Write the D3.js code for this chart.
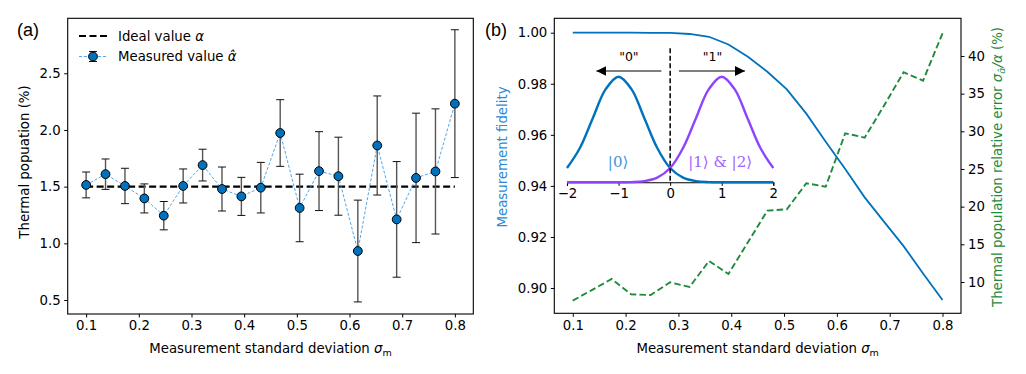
<!DOCTYPE html>
<html>
  <head>
    <meta charset="utf-8" />
    <script src="https://d3js.org/d3.v7.min.js"></script>
    <style>
      body { margin: 0; background: #fff; }
      text { font-family: "DejaVu Sans", sans-serif; fill: #000; }
      .tick text { font-size: 13.3px; }
      .panel-tag { font-family: "Liberation Sans", Arial, sans-serif; font-size: 18px; }
      .math { font-family: "DejaVu Serif", "Liberation Serif", serif; }
    </style>
  </head>
  <body>
    <svg id="fig" width="1026" height="374"></svg>

    <script>
      // sigma_m values (same grid in both panels)
      var sigmaM = [0.1, 0.1368, 0.1737, 0.2105, 0.2474, 0.2842, 0.3211, 0.3579, 0.3947, 0.4316,
                    0.4684, 0.5053, 0.5421, 0.5789, 0.6158, 0.6526, 0.6895, 0.7263, 0.7632, 0.8];

      // panel (a): measured thermal population (%) and its error bar
      var thermalPop = [1.515, 1.61, 1.506, 1.396, 1.244, 1.506, 1.69, 1.479, 1.414, 1.491,
                        1.973, 1.312, 1.637, 1.592, 0.932, 1.863, 1.211, 1.577, 1.634, 2.232];
      var thermalErr = [0.114, 0.134, 0.156, 0.128, 0.125, 0.15, 0.14, 0.194, 0.168, 0.223,
                        0.294, 0.298, 0.348, 0.344, 0.449, 0.437, 0.51, 0.571, 0.552, 0.652];
      var idealValue = 1.5;

      // panel (b): fidelity and relative error (%)
      var fidelity = [1.0, 1.0, 1.0, 1.0, 0.99996, 0.9999, 0.9995, 0.9984, 0.9954, 0.9906,
                      0.9847, 0.9778, 0.9683, 0.9573, 0.9466, 0.9355, 0.9259, 0.9164, 0.9057, 0.8953];
      var relError = [7.52, 8.96, 10.40, 8.37, 8.27, 9.96, 9.34, 12.79, 11.06, 15.27,
                      19.47, 19.65, 23.10, 22.65, 29.74, 29.16, 33.44, 37.84, 36.72, 43.01];

      // inset: readout distributions
      var insetX = [-2, -1.75, -1.5, -1.25, -1, -0.75, -0.5, -0.25, 0, 0.25, 0.5, 0.75, 1, 1.25, 1.5, 1.75, 2];
      var ground = [0.135, 0.325, 0.607, 0.882, 1.0, 0.882, 0.607, 0.325, 0.135, 0.044, 0.011, 0.002, 0.0, 0.0, 0.0, 0.0, 0.0];
      var excited = [0.0, 0.0, 0.0, 0.0, 0.0, 0.002, 0.011, 0.044, 0.135, 0.325, 0.607, 0.882, 1.0, 0.882, 0.607, 0.325, 0.135];

      var xTicks = [0.1, 0.2, 0.3, 0.4, 0.5, 0.6, 0.7, 0.8];
      var popTicks = [0.5, 1.0, 1.5, 2.0, 2.5];
      var fidTicks = [0.90, 0.92, 0.94, 0.96, 0.98, 1.00];
      var errTicks = [10, 15, 20, 25, 30, 35, 40];
      var insetTicks = [-2, -1, 0, 1, 2];

      var blue = "#0072bd", purple = "#8e44ff", green = "#1f8a3c";
      var fs = "13.3px";

      var svg = d3.select("#fig");
      var defs = svg.append("defs");
      defs.append("marker").attr("id", "head")
        .attr("viewBox", "0 0 10 10").attr("refX", 10).attr("refY", 5)
        .attr("markerWidth", 10).attr("markerHeight", 10).attr("markerUnits", "userSpaceOnUse")
        .attr("orient", "auto")
        .append("path").attr("d", "M0,0L10,5L0,10Z").attr("fill", "#000");

      function styleAxis(g) {
        g.selectAll(".domain").remove();
        g.selectAll(".tick line").attr("stroke", "#000").attr("stroke-width", 1);
        g.selectAll(".tick text").attr("fill", "#000");
      }

      function frame(x0, x1, y0, y1) {
        svg.append("rect").attr("x", x0).attr("y", y0)
          .attr("width", x1 - x0).attr("height", y1 - y0)
          .attr("fill", "none").attr("stroke", "#000").attr("stroke-width", 1.1);
      }

      // ---------------- panel (a) ----------------
      var ax = { l: 67.7, r: 473.3, t: 18.3, b: 314 };
      var xa = d3.scaleLinear().domain([0.065, 0.835]).range([ax.l, ax.r]);
      var ya = d3.scaleLinear().domain([0.3765, 2.985]).range([ax.b, ax.t]);

      svg.append("g").attr("transform", "translate(0," + ax.b + ")")
        .call(d3.axisBottom(xa).tickValues(xTicks).tickFormat(d3.format(".1f")).tickSize(3.5).tickPadding(3.5))
        .call(styleAxis);
      svg.append("g").attr("transform", "translate(" + ax.l + ",0)")
        .call(d3.axisLeft(ya).tickValues(popTicks).tickFormat(d3.format(".1f")).tickSize(3.5).tickPadding(3.5))
        .call(styleAxis);

      var pts = sigmaM.map(function(s, i) { return { x: s, y: thermalPop[i], e: thermalErr[i] }; });

      // ideal value line
      svg.append("line")
        .attr("x1", xa(sigmaM[0])).attr("x2", xa(sigmaM[sigmaM.length - 1]))
        .attr("y1", ya(idealValue)).attr("y2", ya(idealValue))
        .attr("stroke", "#000").attr("stroke-width", 2.2).attr("stroke-dasharray", "7,3.5");

      // connecting line
      svg.append("path").datum(pts)
        .attr("d", d3.line().x(function(d) { return xa(d.x); }).y(function(d) { return ya(d.y); }))
        .attr("fill", "none").attr("stroke", "#3d9be6").attr("stroke-width", 0.9)
        .attr("stroke-dasharray", "3,1.8");

      // error bars
      var eb = svg.append("g");
      eb.selectAll(".ebar").data(pts).enter().append("line")
        .attr("x1", function(d) { return xa(d.x); }).attr("x2", function(d) { return xa(d.x); })
        .attr("y1", function(d) { return ya(d.y - d.e); }).attr("y2", function(d) { return ya(d.y + d.e); })
        .attr("stroke", "#555").attr("stroke-width", 1.4);
      [-1, 1].forEach(function(sgn) {
        eb.selectAll(".cap" + sgn).data(pts).enter().append("line")
          .attr("x1", function(d) { return xa(d.x) - 4; }).attr("x2", function(d) { return xa(d.x) + 4; })
          .attr("y1", function(d) { return ya(d.y + sgn * d.e); }).attr("y2", function(d) { return ya(d.y + sgn * d.e); })
          .attr("stroke", "#111").attr("stroke-width", 1);
      });

      svg.append("g").selectAll("circle").data(pts).enter().append("circle")
        .attr("cx", function(d) { return xa(d.x); }).attr("cy", function(d) { return ya(d.y); })
        .attr("r", 4.4).attr("fill", blue).attr("stroke", "#000").attr("stroke-width", 1);

      frame(ax.l, ax.r, ax.t, ax.b);

      // legend
      var lg = svg.append("g");
      lg.append("line").attr("x1", 79).attr("x2", 107).attr("y1", 36).attr("y2", 36)
        .attr("stroke", "#000").attr("stroke-width", 2.2).attr("stroke-dasharray", "7,3.5");
      var t1 = lg.append("text").attr("x", 118).attr("y", 40.8).style("font-size", fs);
      t1.append("tspan").text("Ideal value ");
      t1.append("tspan").style("font-style", "italic").text("α");
      lg.append("line").attr("x1", 79).attr("x2", 107).attr("y1", 56.5).attr("y2", 56.5)
        .attr("stroke", "#3d9be6").attr("stroke-width", 0.9).attr("stroke-dasharray", "3,1.8");
      lg.append("line").attr("x1", 93).attr("x2", 93).attr("y1", 51.5).attr("y2", 61.5)
        .attr("stroke", "#555").attr("stroke-width", 1.4);
      lg.append("line").attr("x1", 89).attr("x2", 97).attr("y1", 51.5).attr("y2", 51.5).attr("stroke", "#111");
      lg.append("line").attr("x1", 89).attr("x2", 97).attr("y1", 61.5).attr("y2", 61.5).attr("stroke", "#111");
      lg.append("circle").attr("cx", 93).attr("cy", 56.5).attr("r", 4.4)
        .attr("fill", blue).attr("stroke", "#000");
      var t2 = lg.append("text").attr("x", 118).attr("y", 61.3).style("font-size", fs);
      t2.append("tspan").text("Measured value ");
      t2.append("tspan").style("font-style", "italic").text("α\u0302");

      // labels
      svg.append("text").attr("class", "panel-tag").attr("x", 17).attr("y", 36).text("(a)");
      svg.append("text").attr("transform", "translate(29,162) rotate(-90)")
        .attr("text-anchor", "middle").style("font-size", fs).text("Thermal popuation (%)");
      var xla = svg.append("text").attr("x", (ax.l + ax.r) / 2).attr("y", 353)
        .attr("text-anchor", "middle").style("font-size", fs);
      xla.append("tspan").text("Measurement standard deviation ");
      xla.append("tspan").style("font-style", "italic").text("σ");
      xla.append("tspan").attr("dy", 3).style("font-size", "9.5px").text("m");

      // ---------------- panel (b) ----------------
      var bx = { l: 554.3, r: 961, t: 18.3, b: 313.3 };
      var xb = d3.scaleLinear().domain([0.065, 0.835]).range([bx.l, bx.r]);
      var yf = d3.scaleLinear().domain([0.8901, 1.00564]).range([bx.b, bx.t]);
      var ye = d3.scaleLinear().domain([5.845, 45.0]).range([bx.b, bx.t]);

      svg.append("g").attr("transform", "translate(0," + bx.b + ")")
        .call(d3.axisBottom(xb).tickValues(xTicks).tickFormat(d3.format(".1f")).tickSize(3.5).tickPadding(3.5))
        .call(styleAxis);
      svg.append("g").attr("transform", "translate(" + bx.l + ",0)")
        .call(d3.axisLeft(yf).tickValues(fidTicks).tickFormat(d3.format(".2f")).tickSize(3.5).tickPadding(3.5))
        .call(styleAxis);
      svg.append("g").attr("transform", "translate(" + bx.r + ",0)")
        .call(d3.axisRight(ye).tickValues(errTicks).tickFormat(d3.format("d")).tickSize(3.5).tickPadding(3.5))
        .call(styleAxis);

      svg.append("path").datum(sigmaM)
        .attr("d", d3.line().x(function(d) { return xb(d); }).y(function(d, i) { return yf(fidelity[i]); }))
        .attr("fill", "none").attr("stroke", blue).attr("stroke-width", 1.8);

      svg.append("path").datum(sigmaM)
        .attr("d", d3.line().x(function(d) { return xb(d); }).y(function(d, i) { return ye(relError[i]); }))
        .attr("fill", "none").attr("stroke", green).attr("stroke-width", 1.9)
        .attr("stroke-dasharray", "6.5,3.2");

      frame(bx.l, bx.r, bx.t, bx.b);

      // inset
      var xi = d3.scaleLinear().domain([-2, 2]).range([567, 773.3]);
      var yi = d3.scaleLinear().domain([0, 1]).range([182.3, 76.7]);
      var inset = svg.append("g");
      inset.append("g").attr("transform", "translate(0," + yi(0) + ")")
        .call(d3.axisBottom(xi).tickValues(insetTicks).tickFormat(d3.format("d")).tickSize(3.5).tickPadding(3))
        .call(function(g) {
          g.select(".domain").attr("stroke", "#000").attr("stroke-width", 1.1);
          g.selectAll(".tick line").attr("stroke", "#000");
          g.selectAll(".tick text").attr("fill", "#000");
        });

      var gline = d3.line().curve(d3.curveCatmullRom.alpha(0.5))
        .x(function(d) { return xi(d); });
      inset.append("path").datum(insetX)
        .attr("d", gline.y(function(d, i) { return yi(ground[i]); }))
        .attr("fill", "none").attr("stroke", blue).attr("stroke-width", 2.4);
      inset.append("path").datum(insetX)
        .attr("d", gline.y(function(d, i) { return yi(excited[i]); }))
        .attr("fill", "none").attr("stroke", purple).attr("stroke-width", 2.4);

      inset.append("line").attr("x1", xi(0)).attr("x2", xi(0)).attr("y1", yi(1.27)).attr("y2", yi(0))
        .attr("stroke", "#000").attr("stroke-width", 1.5).attr("stroke-dasharray", "5,2.5");

      inset.append("line").attr("x1", xi(-0.17)).attr("x2", xi(-1.43)).attr("y1", yi(1.054)).attr("y2", yi(1.054))
        .attr("stroke", "#000").attr("stroke-width", 1.2).attr("marker-end", "url(#head)");
      inset.append("line").attr("x1", xi(0.17)).attr("x2", xi(1.45)).attr("y1", yi(1.054)).attr("y2", yi(1.054))
        .attr("stroke", "#000").attr("stroke-width", 1.2).attr("marker-end", "url(#head)");

      inset.append("text").attr("x", xi(-0.8)).attr("y", yi(1.19) + 4.5).attr("text-anchor", "middle")
        .style("font-size", "12.5px").text("\"0\"");
      inset.append("text").attr("x", xi(0.82)).attr("y", yi(1.19) + 4.5).attr("text-anchor", "middle")
        .style("font-size", "12.5px").text("\"1\"");

      inset.append("text").attr("class", "math").attr("x", xi(-1.01)).attr("y", yi(0.2) + 5.5)
        .attr("text-anchor", "middle").style("font-size", "15px").style("fill", "#3f95d6")
        .text("|0\u27E9");
      inset.append("text").attr("class", "math").attr("x", xi(0.97)).attr("y", yi(0.2) + 5.5)
        .attr("text-anchor", "middle").style("font-size", "15px").style("fill", "#a162ff")
        .text("|1\u27E9 & |2\u27E9");

      // labels (b)
      svg.append("text").attr("class", "panel-tag").attr("x", 485).attr("y", 36).text("(b)");
      svg.append("text").attr("transform", "translate(507,157) rotate(-90)")
        .attr("text-anchor", "middle").style("font-size", fs).style("fill", "#2a8bd8")
        .text("Measurement fidelity");
      var yl = svg.append("text").attr("transform", "translate(1002,167) rotate(-90)")
        .attr("text-anchor", "middle").style("font-size", fs).style("fill", green);
      yl.append("tspan").style("fill", green).text("Thermal population relative error ");
      yl.append("tspan").style("fill", green).style("font-style", "italic").text("σ");
      yl.append("tspan").style("fill", green).style("font-style", "italic").style("font-size", "9.5px")
        .attr("dy", 3).text("α\u0302");
      yl.append("tspan").style("fill", green).attr("dy", -3).style("font-style", "italic").text("/α");
      yl.append("tspan").style("fill", green).text(" (%)");

      var xlb = svg.append("text").attr("x", (bx.l + bx.r) / 2).attr("y", 353)
        .attr("text-anchor", "middle").style("font-size", fs);
      xlb.append("tspan").text("Measurement standard deviation ");
      xlb.append("tspan").style("font-style", "italic").text("σ");
      xlb.append("tspan").attr("dy", 3).style("font-size", "9.5px").text("m");
    </script>
  </body>
</html>
